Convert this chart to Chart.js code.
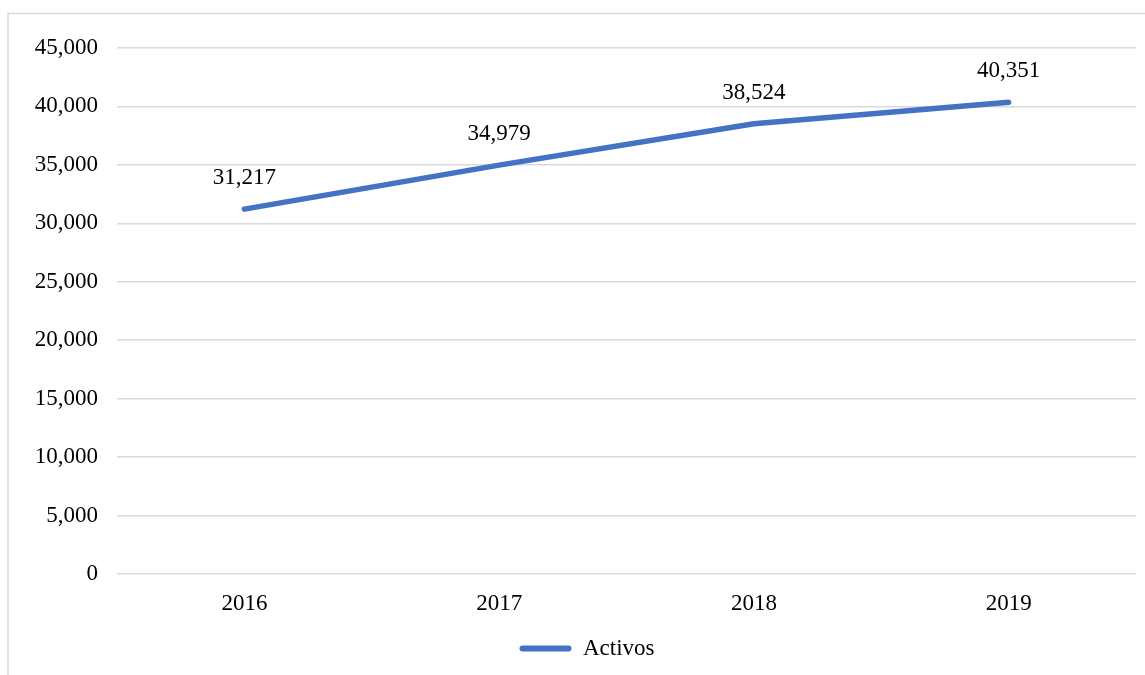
<!DOCTYPE html>
<html>
<head>
<meta charset="utf-8">
<script src="https://cdn.jsdelivr.net/npm/chart.js@4"></script>
<style>
  html, body { margin: 0; padding: 0; background: #ffffff; }
  #wrap { position: relative; width: 1145px; height: 675px; }
</style>
</head>
<body>
<div id="wrap"><canvas id="c" width="1145" height="675"></canvas></div>
<script>
const categories = ['2016', '2017', '2018', '2019'];
const activos = [31217, 34979, 38524, 40351];
const seriesName = 'Activos';
const yMin = 0;
const yMax = 45000;
const yStep = 5000;

const FONT = "'Liberation Serif', 'Times New Roman', serif";
const FS = 23;
const LEGEND_SHIFT = 19;

const fmt = v => Number(v).toLocaleString('en-US');

const frame = {
  id: 'frame',
  beforeDraw(chart) {
    const ctx = chart.ctx;
    ctx.save();
    ctx.fillStyle = '#ffffff';
    ctx.fillRect(0, 0, chart.width, chart.height);
    ctx.strokeStyle = '#d9d9d9';
    ctx.lineWidth = 1.5;
    ctx.strokeRect(8, 13.5, 1300, 800);
    ctx.restore();
    const lg = chart.legend;
    if (lg && !lg._shifted) {
      lg.left += LEGEND_SHIFT;
      lg.right += LEGEND_SHIFT;
      lg._shifted = true;
    }
  },
  afterLayout(chart) {
    if (chart.legend) chart.legend._shifted = false;
  }
};

const dataLabels = {
  id: 'dataLabels',
  afterDatasetsDraw(chart) {
    const ctx = chart.ctx;
    const meta = chart.getDatasetMeta(0);
    const values = chart.data.datasets[0].data;
    ctx.save();
    ctx.fillStyle = '#000000';
    ctx.font = FS + 'px ' + FONT;
    ctx.textAlign = 'center';
    ctx.textBaseline = 'middle';
    meta.data.forEach((pt, i) => {
      ctx.fillText(fmt(values[i]), pt.x, pt.y - 31);
    });
    ctx.restore();
  }
};

new Chart(document.getElementById('c'), {
  type: 'line',
  data: {
    labels: categories,
    datasets: [{
      label: seriesName,
      data: activos,
      borderColor: '#4472C4',
      backgroundColor: '#4472C4',
      borderWidth: 5.5,
      borderCapStyle: 'round',
      borderJoinStyle: 'round',
      pointRadius: 0,
      pointHoverRadius: 0,
      tension: 0,
      fill: false
    }]
  },
  options: {
    responsive: false,
    animation: false,
    events: [],
    layout: { padding: { left: 0, right: 9, top: 48, bottom: 5 } },
    plugins: {
      tooltip: { enabled: false },
      legend: {
        display: true,
        position: 'bottom',
        labels: {
          color: '#000000',
          font: { family: FONT, size: FS },
          boxWidth: 52,
          boxHeight: 6,
          padding: 10,
          useBorderRadius: true,
          borderRadius: 3,
          generateLabels(chart) {
            return Chart.defaults.plugins.legend.labels.generateLabels(chart)
              .map(l => Object.assign(l, { lineWidth: 0 }));
          }
        }
      }
    },
    scales: {
      x: {
        offset: true,
        grid: { display: false, drawTicks: false },
        border: { display: false },
        ticks: {
          color: '#000000',
          font: { family: FONT, size: FS },
          padding: 16,
          maxRotation: 0
        },
        afterFit(scale) { scale.height = 53; }
      },
      y: {
        min: yMin,
        max: yMax,
        grid: { color: '#d9d9d9', lineWidth: 1.5, drawTicks: false },
        border: { display: false },
        ticks: {
          stepSize: yStep,
          color: '#000000',
          font: { family: FONT, size: FS },
          padding: 19,
          callback: v => fmt(v)
        },
        afterFit(scale) { scale.width = 117; }
      }
    }
  },
  plugins: [frame, dataLabels]
});
</script>
</body>
</html>
